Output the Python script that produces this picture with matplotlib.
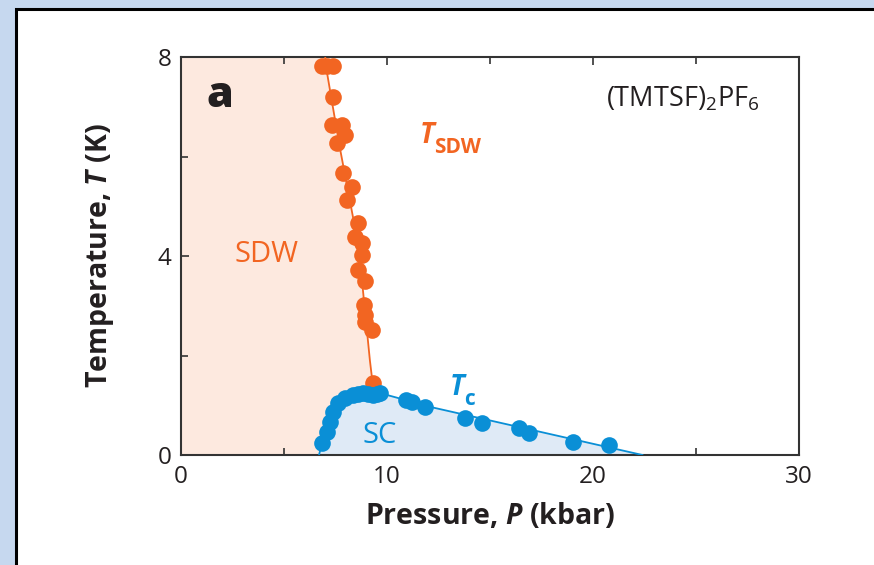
import matplotlib
matplotlib.use("Agg")
import matplotlib.pyplot as plt
from matplotlib.patches import Rectangle

plt.rcParams["font.family"] = ["Open Sans", "DejaVu Sans"]
plt.rcParams["mathtext.fontset"] = "custom"
plt.rcParams["mathtext.rm"] = "Open Sans"
plt.rcParams["mathtext.it"] = "Open Sans:italic"
plt.rcParams["mathtext.bf"] = "Open Sans:bold"
plt.rcParams["mathtext.bfit"] = "Open Sans:bold:italic"

# T_SDW data (pressure kbar, temperature K)
sdw_p = [6.85, 7.1, 7.4, 7.38, 7.33, 7.8, 7.96, 7.57, 7.86, 8.3, 8.06, 8.6,
         8.45, 8.8, 8.8, 8.6, 8.93, 8.9, 8.95, 8.95, 9.27, 9.3]
sdw_t = [7.82, 7.82, 7.82, 7.2, 6.63, 6.63, 6.43, 6.27, 5.67, 5.39, 5.13, 4.66,
         4.38, 4.26, 4.02, 3.72, 3.5, 3.02, 2.81, 2.67, 2.51, 1.45]
# guide line through T_SDW
sdw_line_p = [7.0, 7.09, 7.7, 8.35, 8.83, 9.17, 9.3, 9.35]
sdw_line_t = [8.0, 7.68, 6.2, 4.78, 3.32, 1.9, 1.45, 1.25]

# Tc data
sc_p = [6.84, 7.08, 7.23, 7.38, 7.6, 7.96, 8.35, 8.6, 8.85, 9.1, 9.3, 9.5, 9.66,
        10.9, 11.2, 11.85, 13.8, 14.6, 16.4, 16.9, 19.05, 20.8]
sc_t = [0.24, 0.46, 0.66, 0.86, 1.04, 1.15, 1.2, 1.22, 1.25, 1.22, 1.2, 1.22, 1.25,
        1.1, 1.07, 0.97, 0.74, 0.64, 0.54, 0.44, 0.26, 0.2]
# guide line through Tc
sc_line_p = [6.7, 6.85, 7.1, 7.4, 7.8, 8.4, 9.0, 9.7, 10.5, 11.85, 22.4]
sc_line_t = [0.0, 0.25, 0.55, 0.85, 1.05, 1.18, 1.24, 1.24, 1.15, 0.99, 0.0]

orange = "#f26522"
blue = "#0a8fd6"
dark = "#231f20"

fig = plt.figure(figsize=(8.74, 5.65), dpi=100)
fig.patch.set_facecolor("#c6d8ef")
# white panel with dark border (drawn below the axes)
panel = Rectangle((16 / 874, -0.01), 1.0, 0.994, transform=fig.transFigure,
                  facecolor="white", edgecolor="black", lw=2.2, zorder=-10)
fig.patches.append(panel)

ax = fig.add_axes([181 / 874, 110 / 565, 618 / 874, 398 / 565])
ax.set_zorder(1)
ax.set_facecolor("white")
ax.set_xlim(0, 30)
ax.set_ylim(0, 8)

# SDW region: left of the T_SDW guide line, extended down to T=0
fill_p = [0] + sdw_line_p + [9.35, 0]
fill_t = [8] + sdw_line_t + [0, 0]
ax.fill(fill_p, fill_t, color="#fde9df", lw=0, zorder=1)
# SC region under Tc line
ax.fill(sc_line_p, sc_line_t, color="#dfeaf6", lw=0, zorder=2)

ax.plot(sdw_line_p, sdw_line_t, color=orange, lw=1.3, zorder=3)
ax.plot(sdw_p, sdw_t, "o", color=orange, ms=12, mec="none", zorder=4, clip_on=False)
ax.plot(sc_line_p, sc_line_t, color=blue, lw=1.3, zorder=5)
ax.plot(sc_p, sc_t, "o", color=blue, ms=12, mec="none", zorder=6, clip_on=False)

ax.text(1.25, 7.0, "a", fontsize=31, fontweight="heavy", color=dark)
ax.text(28.1, 7.0, r"(TMTSF)$_\mathrm{2}$PF$_\mathrm{6}$", fontsize=19.5, color=dark, ha="right")

# T_SDW label: italic T plus a larger-than-mathtext subscript
ax.text(11.6, 6.28, "T", fontsize=20, fontweight="bold", fontstyle="italic", color=orange)
ax.text(12.3, 6.08, "SDW", fontsize=15, fontweight="bold", color=orange)
ax.text(13.05, 1.21, "T", fontsize=20, fontweight="bold", fontstyle="italic", color=blue)
ax.text(13.72, 1.0, "c", fontsize=15, fontweight="bold", color=blue)

ax.text(4.13, 3.88, "SDW", fontsize=21, color=orange, ha="center")
ax.text(9.66, 0.24, "SC", fontsize=21, color=blue, ha="center")

ax.set_xticks([0, 10, 20, 30])
ax.set_xticks([5, 15, 25], minor=True)
ax.set_yticks([0, 4, 8])
ax.set_yticks([2, 6], minor=True)
ax.tick_params(which="both", direction="in", top=True, right=False, color="#333333",
               labelsize=17.5, labelcolor=dark, pad=7)
ax.tick_params(which="major", length=6, width=1.2)
ax.tick_params(which="minor", length=5, width=1.2)
for s in ax.spines.values():
    s.set_color("#333333")
    s.set_linewidth(1.5)

ax.set_xlabel(r"Pressure, $\mathbfit{P}$ (kbar)", fontsize=20.5, fontweight="bold",
              color=dark, labelpad=9)
ax.set_ylabel(r"Temperature, $\mathbfit{T}$ (K)", fontsize=20.5, fontweight="bold",
              color=dark, labelpad=30)

fig.savefig("out.png", dpi=100, facecolor=fig.get_facecolor())
